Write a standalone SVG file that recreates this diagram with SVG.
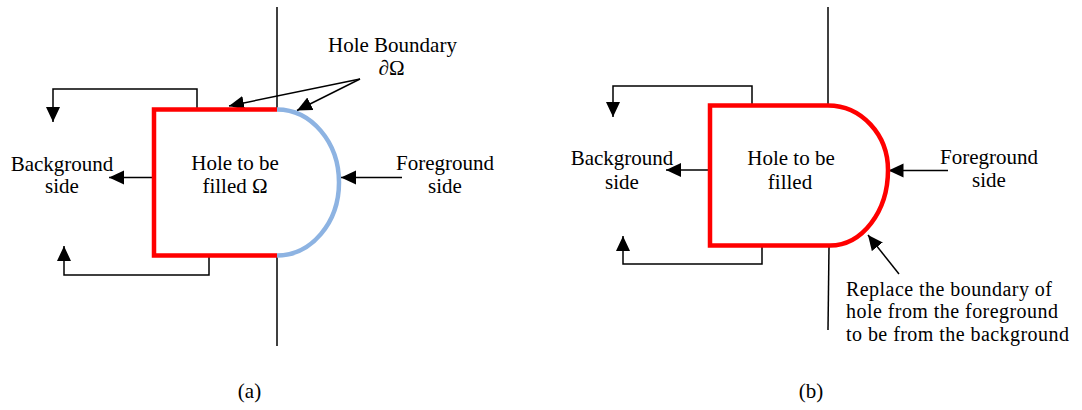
<svg xmlns="http://www.w3.org/2000/svg" width="1082" height="410" viewBox="0 0 1082 410">
<style>
  text { font-family: "Liberation Serif", "Times New Roman", serif; font-size: 21px; fill: #000; }
  .c { text-anchor: middle; }
  .note { font-size: 20px; letter-spacing: 0.45px; }
  .ln { fill: none; stroke: #000; stroke-width: 1.5; }
  .arr { fill: none; stroke: #000; stroke-width: 1.5; marker-end: url(#ah); }
  .red { fill: none; stroke: #FF0000; stroke-width: 4.5; stroke-linejoin: miter; }
  .blue { fill: none; stroke: #8DB3E2; stroke-width: 4.5; }
</style>
<defs>
  <marker id="ah" markerUnits="userSpaceOnUse" markerWidth="16" markerHeight="15" refX="15" refY="7" orient="auto">
    <path d="M0,0 L15,7 L0,14 Z" fill="#000"/>
  </marker>
</defs>
<rect width="1082" height="410" fill="#fff"/>

<g id="connectors">
  <!-- panel a -->
  <line class="ln" x1="277" y1="7" x2="277" y2="109"/>
  <line class="ln" x1="277" y1="256" x2="277" y2="346"/>
  <polyline class="arr" points="197,108 197,89 53,89 53,122"/>
  <polyline class="arr" points="209,256 209,275 64,275 64,246"/>
  <line class="arr" x1="152" y1="177.5" x2="109" y2="177.5"/>
  <line class="arr" x1="402" y1="177.5" x2="341" y2="177.5"/>
  <line class="arr" x1="360" y1="79" x2="229" y2="106"/>
  <line class="arr" x1="360" y1="79" x2="297" y2="110.5"/>
  <!-- panel b -->
  <line class="ln" x1="828" y1="7" x2="828" y2="104"/>
  <line class="ln" x1="829" y1="247" x2="828" y2="330"/>
  <polyline class="arr" points="752,104 752,86 613,86 613,117"/>
  <polyline class="arr" points="762,246 762,264 623,264 623,236"/>
  <line class="arr" x1="708" y1="170" x2="666" y2="170"/>
  <line class="arr" x1="948" y1="170.5" x2="888.5" y2="170.5"/>
  <line class="arr" x1="899" y1="274" x2="868" y2="235"/>
</g>

<g id="hole-a">
  <path class="red" d="M277,109.5 H154 V255.5 H277"/>
  <path class="blue" d="M277,109.5 A62,73 0 0 1 277,255.5"/>
  <text class="c"><tspan x="235" y="170">Hole to be</tspan><tspan x="235" y="193">filled Ω</tspan></text>
</g>
<g id="background-a">
  <text class="c"><tspan x="62" y="170.5">Background</tspan><tspan x="62" y="193">side</tspan></text>
</g>
<g id="foreground-a">
  <text class="c"><tspan x="445" y="169.5">Foreground</tspan><tspan x="445" y="192.5">side</tspan></text>
</g>
<g id="boundary-label">
  <text class="c"><tspan x="392.5" y="51.7">Hole Boundary</tspan><tspan x="391.5" y="75">∂Ω</tspan></text>
</g>
<g id="caption-a"><text class="c" x="249.5" y="398">(a)</text></g>

<g id="hole-b">
  <path class="red" d="M828,105.5 H710 V245.5 H830 A58,75.5 0 0 0 888,170 A60,64.5 0 0 0 828,105.5 Z"/>
  <text class="c"><tspan x="791" y="165">Hole to be</tspan><tspan x="790" y="188.5">filled</tspan></text>
</g>
<g id="background-b">
  <text class="c"><tspan x="622" y="165">Background</tspan><tspan x="622" y="189">side</tspan></text>
</g>
<g id="foreground-b">
  <text class="c"><tspan x="989" y="163.5">Foreground</tspan><tspan x="989" y="187">side</tspan></text>
</g>
<g id="replace-note">
  <text class="note"><tspan x="846" y="295.5">Replace the boundary of</tspan><tspan x="846" y="318">hole from the foreground</tspan><tspan x="846" y="340.5">to be from the background</tspan></text>
</g>
<g id="caption-b"><text class="c" x="811" y="398">(b)</text></g>
</svg>
